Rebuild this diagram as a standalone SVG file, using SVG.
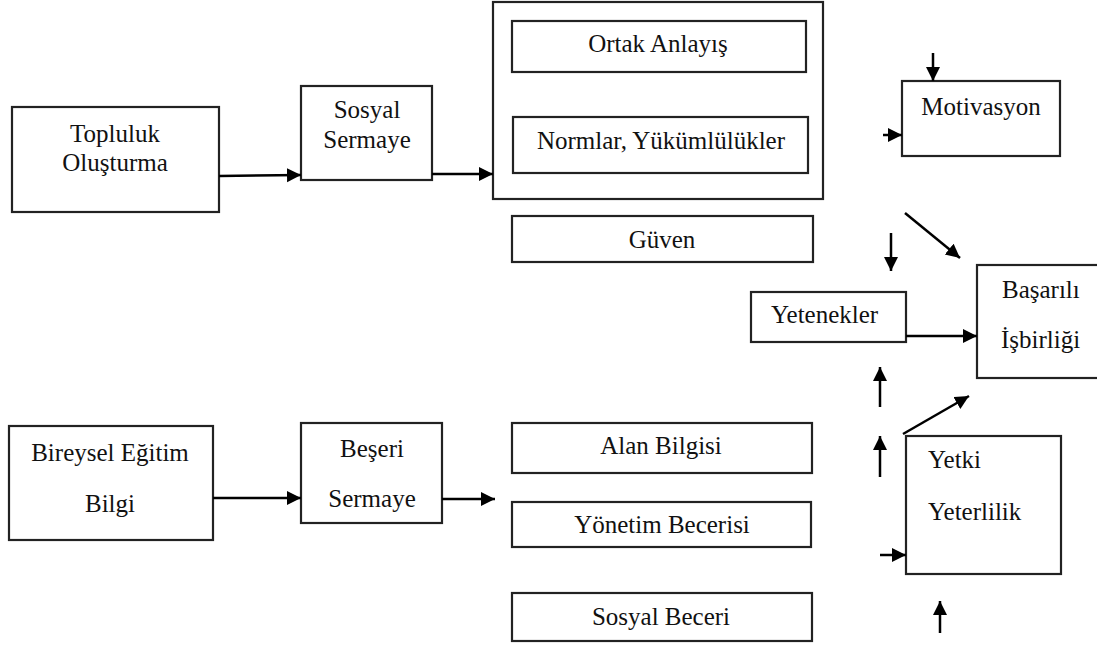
<svg xmlns="http://www.w3.org/2000/svg" width="1097" height="648" viewBox="0 0 1097 648">
  <style>
    .box { fill: #fff; stroke: #222; stroke-width: 2.2; }
    text { font-family: 'Liberation Serif', 'Times New Roman', Times, serif; font-size: 25px; fill: #111; }
    .c { text-anchor: middle; }
    .arr { stroke: #000; stroke-width: 2.5; fill: none; marker-end: url(#head); }
  </style>
  <defs>
    <marker id="head" markerUnits="userSpaceOnUse" markerWidth="16" markerHeight="16" refX="14" refY="7" orient="auto">
      <path d="M0,0 L14,7 L0,14 z" fill="#000"/>
    </marker>
  </defs>
  <rect width="1097" height="648" fill="#fff"/>

  <g id="nodes" font-family="Liberation Serif, Times New Roman, serif" font-size="25">
    <g id="topluluk">
      <rect class="box" x="12" y="107" width="207" height="105"/>
      <text class="c" x="115" y="142">Topluluk</text>
      <text class="c" x="115" y="171">Oluşturma</text>
    </g>
    <g id="sosyal-sermaye">
      <rect class="box" x="301" y="86" width="131" height="94"/>
      <text class="c" x="367" y="118">Sosyal</text>
      <text class="c" x="367" y="148">Sermaye</text>
    </g>
    <g id="sosyal-icerik">
      <rect class="box" x="493" y="2" width="330" height="197"/>
      <g id="ortak-anlayis">
        <rect class="box" x="512" y="21" width="294" height="51"/>
        <text class="c" x="658" y="52">Ortak Anlayış</text>
      </g>
      <g id="normlar">
        <rect class="box" x="513" y="117" width="295" height="56"/>
        <text class="c" x="661" y="149">Normlar, Yükümlülükler</text>
      </g>
    </g>
    <g id="guven">
      <rect class="box" x="512" y="216" width="301" height="46"/>
      <text class="c" x="662" y="248">Güven</text>
    </g>
    <g id="motivasyon">
      <rect class="box" x="902" y="81" width="158" height="75"/>
      <text class="c" x="981" y="115">Motivasyon</text>
    </g>
    <g id="yetenekler">
      <rect class="box" x="751" y="292" width="155" height="50"/>
      <text x="771" y="323">Yetenekler</text>
    </g>
    <g id="basarili-isbirligi">
      <rect class="box" x="977" y="265" width="130" height="113"/>
      <text x="1002" y="298">Başarılı</text>
      <text x="1001" y="348">İşbirliği</text>
    </g>
    <g id="yetki">
      <rect class="box" x="906" y="436" width="155" height="138"/>
      <text x="928" y="468">Yetki</text>
      <text x="928" y="520">Yeterlilik</text>
    </g>
    <g id="bireysel">
      <rect class="box" x="9" y="426" width="204" height="114"/>
      <text class="c" x="110" y="461">Bireysel Eğitim</text>
      <text class="c" x="110" y="512">Bilgi</text>
    </g>
    <g id="beseri-sermaye">
      <rect class="box" x="301" y="423" width="141" height="100"/>
      <text class="c" x="372" y="457">Beşeri</text>
      <text class="c" x="372" y="507">Sermaye</text>
    </g>
    <g id="alan-bilgisi">
      <rect class="box" x="512" y="423" width="300" height="50"/>
      <text class="c" x="661" y="454">Alan Bilgisi</text>
    </g>
    <g id="yonetim-becerisi">
      <rect class="box" x="512" y="502" width="299" height="45"/>
      <text class="c" x="662" y="533">Yönetim Becerisi</text>
    </g>
    <g id="sosyal-beceri">
      <rect class="box" x="512" y="593" width="300" height="48"/>
      <text class="c" x="661" y="625">Sosyal Beceri</text>
    </g>
  </g>

  <g id="connectors">
    <line class="arr" x1="219" y1="176" x2="301" y2="175"/>
    <line class="arr" x1="432" y1="174" x2="493" y2="174"/>
    <line class="arr" x1="933" y1="53" x2="933" y2="81"/>
    <line class="arr" x1="883" y1="135" x2="902" y2="135"/>
    <line class="arr" x1="905" y1="213" x2="960" y2="258"/>
    <line class="arr" x1="891" y1="233" x2="891" y2="271"/>
    <line class="arr" x1="906" y1="336" x2="977" y2="336"/>
    <line class="arr" x1="880" y1="407" x2="880" y2="367"/>
    <line class="arr" x1="880" y1="477" x2="880" y2="436"/>
    <line class="arr" x1="903" y1="434" x2="969" y2="396"/>
    <line class="arr" x1="880" y1="555" x2="906" y2="555"/>
    <line class="arr" x1="940" y1="633" x2="940" y2="601"/>
    <line class="arr" x1="213" y1="498" x2="301" y2="498"/>
    <line class="arr" x1="442" y1="499" x2="495" y2="499"/>
  </g>
</svg>
